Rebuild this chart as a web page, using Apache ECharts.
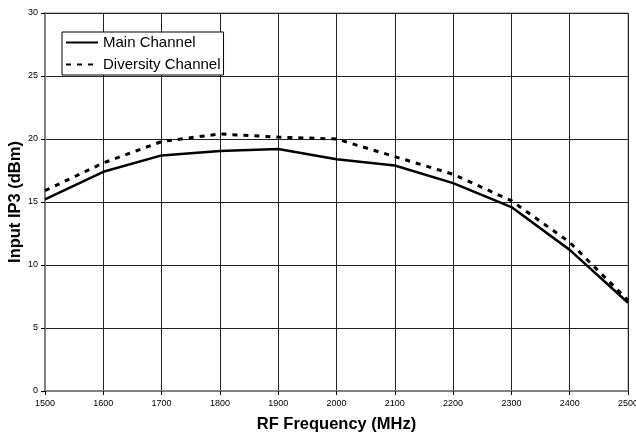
<!DOCTYPE html>
<html>
<head>
<meta charset="utf-8">
<script src="https://cdn.jsdelivr.net/npm/echarts@6/dist/echarts.min.js"></script>
<style>html,body{margin:0;padding:0;background:#fff;}#c{width:636px;height:437px;}</style>
</head>
<body>
<div id="c"></div>
<script>
var freqs = [1500, 1600, 1700, 1800, 1900, 2000, 2100, 2200, 2300, 2400, 2500];
var mainChannel = [15.2, 17.4, 18.7, 19.05, 19.2, 18.4, 17.9, 16.5, 14.6, 11.2, 7.0];
var diversityChannel = [15.9, 18.1, 19.8, 20.4, 20.15, 20.0, 18.6, 17.2, 15.1, 11.8, 7.2];
var seriesNames = ['Main Channel', 'Diversity Channel'];

function pairs(xs, ys) { return xs.map(function (x, i) { return [x, ys[i]]; }); }

var FONT = 'Liberation Sans, Arial, sans-serif';
var chart = echarts.init(document.getElementById('c'), null, { renderer: 'canvas' });
chart.setOption({
  animation: false,
  backgroundColor: '#fff',
  grid: { left: 45, right: 8, top: 13, bottom: 46, containLabel: false, outerBoundsMode: 'none',
          show: true, borderColor: '#888', borderWidth: 1 },
  legend: {
    left: 62, top: 32, orient: 'vertical',
    itemWidth: 32, itemHeight: 14, itemGap: 7,
    padding: [3, 3, 3, 3],
    borderColor: '#000', borderWidth: 1, backgroundColor: '#fff',
    itemStyle: { color: 'rgba(0,0,0,0)', borderWidth: 0 },
    textStyle: { fontFamily: FONT, fontSize: 15, color: '#000' },
    data: seriesNames
  },
  xAxis: {
    type: 'value', min: 1500, max: 2500, interval: 100,
    name: 'RF Frequency (MHz)', nameLocation: 'middle', nameGap: 25, nameMoveOverlap: false,
    nameTextStyle: { fontFamily: FONT, fontSize: 16.5, fontWeight: 'bold', color: '#000' },
    axisLine: { lineStyle: { color: '#808080', width: 2 } },
    axisTick: { show: true, length: 4, lineStyle: { color: '#000' } },
    axisLabel: { fontFamily: FONT, fontSize: 9, color: '#000', margin: 8,
                 formatter: function (v) { return String(v); } },
    splitLine: { show: true, lineStyle: { color: '#222', width: 1 } }
  },
  yAxis: {
    type: 'value', min: 0, max: 30, interval: 5,
    name: 'Input IP3 (dBm)', nameLocation: 'middle', nameGap: 21, nameMoveOverlap: false,
    nameTextStyle: { fontFamily: FONT, fontSize: 16.5, fontWeight: 'bold', color: '#000' },
    axisLine: { show: true, lineStyle: { color: '#808080', width: 2 } },
    axisTick: { show: true, length: 4, lineStyle: { color: '#000' } },
    axisLabel: { fontFamily: FONT, fontSize: 9, color: '#000', margin: 7 },
    splitLine: { show: true, lineStyle: { color: '#222', width: 1 } }
  },
  series: [
    {
      name: seriesNames[0], type: 'line', data: pairs(freqs, mainChannel),
      symbol: 'none', lineStyle: { color: '#000', width: 2.5 }, itemStyle: { color: 'rgba(0,0,0,0)' }
    },
    {
      name: seriesNames[1], type: 'line', data: pairs(freqs, diversityChannel),
      symbol: 'none', lineStyle: { color: '#000', width: 3, type: [5, 6] }, itemStyle: { color: 'rgba(0,0,0,0)' }
    }
  ]
});
</script>
</body>
</html>
